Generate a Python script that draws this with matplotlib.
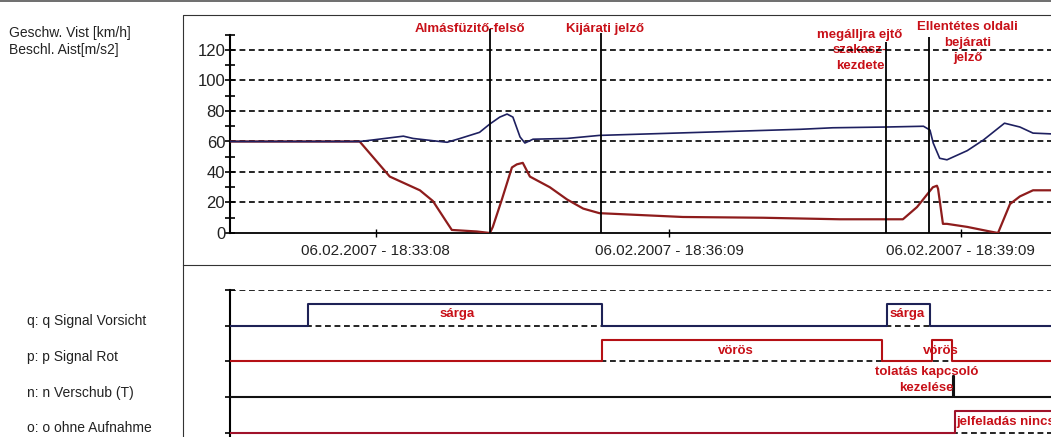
import numpy as np
import matplotlib
matplotlib.use("Agg")
import matplotlib.pyplot as plt
from matplotlib.lines import Line2D

plt.rcParams['font.family'] = ['Liberation Sans', 'DejaVu Sans']

# time axis: seconds relative to 06.02.2007 18:33:08
tick_pos = [0, 181, 361]
tick_labels = ['06.02.2007 - 18:33:08', '06.02.2007 - 18:36:09', '06.02.2007 - 18:39:09']
t_min, t_max = -90, 416.7

# Geschw. Vist [km/h]
speed_t = [-90, -10, -2, 17, 23, 39.5, 44, 52, 64, 70.4, 76.5, 81, 84.6, 89, 92,
           97, 118, 138, 200, 262, 282, 315, 338, 342, 344, 348, 352.5, 365, 375,
           388, 397.5, 405.6, 416.7]
speed_v = [60, 60, 61, 63.5, 62, 60, 59.5, 62, 66, 71.5, 76, 78, 76, 63, 59,
           61.5, 62, 64, 66, 68, 69, 69.5, 70, 67.5, 59, 49, 48, 54, 61,
           72, 69.5, 65.5, 65]

# Beschl. Aist[m/s2]
accel_t = [-90, -10, 8.6, 27.2, 35.2, 43.8, 46.9, 62.3, 70.4, 72.2, 77.8, 84, 87,
           90.7, 95.1, 107.4, 118, 128, 138, 189.5, 239, 286.4, 325.3, 334, 343.8,
           346.3, 347, 350, 352.5, 365, 379, 384, 391.4, 397.5, 405.6, 416.7]
accel_v = [60, 60, 37, 28, 21, 7, 2, 1, 0, 4, 22, 43, 45,
           46, 37, 30, 22, 16, 13, 10.5, 10, 9, 9, 17, 30,
           31, 29, 6, 6, 4, 1, 0, 19, 24, 28, 28]

# event markers
event_t = [70.4, 139, 315, 341.4]
event_top = [134, 131, 125, 128.5]
event_text = ['Almásfüzitő-felső', 'Kijárati jelző',
              'megálljra ejtő\nszakasz-\nkezdete', 'Ellentétes oldali\nbejárati\njelző']
event_text_t = [58, 141.4, 298.8, 365.4]
event_text_y = [138, 138, 134, 139]

# signal channels (state changes, 0 = off, 1 = on)
q_t = [-90, -42, 139.5, 315.4, 342, 416.7]
q_s = [0, 1, 0, 1, 0, 0]
p_t = [-90, 139.5, 312.3, 343, 355.6, 416.7]
p_s = [0, 1, 0, 1, 0, 0]
n_t = [-90, 356, 356.6, 416.7]
n_s = [0, 1, 0, 0]
o_t = [-90, 357.4, 416.7]
o_s = [0, 1, 1]
channel_names = ['q: q Signal Vorsicht', 'p: p Signal Rot', 'n: n Verschub (T)', 'o: o ohne Aufnahme']

red = '#c81018'
W, H = 1051, 437
fig = plt.figure(figsize=(W / 100, H / 100), dpi=100)


def fx(px):
    return px / W


def fy(py):
    return 1 - py / H


# page frame lines
fig.add_artist(Line2D([0, 1], [fy(0.8), fy(0.8)], color='#555555', lw=1.2))
fig.add_artist(Line2D([fx(183), fx(183), 1], [0, fy(15), fy(15)], color='#333333', lw=0.8))
fig.add_artist(Line2D([fx(183), 1], [fy(265), fy(265)], color='#333333', lw=0.8))

# ---- top panel: speed / acceleration
ax = fig.add_axes([fx(230), fy(233), 1 - fx(230), (233 - 34.75) / H])
ax.set_xlim(t_min, t_max)
ax.set_ylim(0, 130)
for s in ['top', 'right']:
    ax.spines[s].set_visible(False)
ax.spines['left'].set_linewidth(1.5)
ax.spines['bottom'].set_linewidth(1.3)
ax.set_yticks(np.arange(0, 121, 20))
ax.set_yticks(np.arange(10, 131, 20), minor=True)
ax.tick_params(axis='y', which='both', direction='inout', length=7, width=1.2, pad=0,
               labelsize=12, labelcolor='#222222')
ax.set_xticks(tick_pos)
ax.set_xticklabels(tick_labels)
ax.tick_params(axis='x', direction='inout', length=6, width=1, pad=5,
               labelsize=11, labelcolor='#222222')
for yv in range(20, 121, 20):
    ax.axhline(yv, color='black', lw=1.2, dashes=(3.5, 2.2), zorder=2)

ax.plot(accel_t, accel_v, color='#8e1c1c', lw=1.6, zorder=3)
ax.plot(speed_t, speed_v, color='#1e2060', lw=1.2, zorder=3)
ax.vlines(event_t, 0, event_top, color='black', lw=1.3, clip_on=False, zorder=4)
for txt, tx, ty in zip(event_text, event_text_t, event_text_y):
    ax.text(tx, ty, txt, color=red, fontsize=9.5, fontweight='bold', ha='center',
            va='top', linespacing=1.4, clip_on=False, zorder=1)

fig.text(fx(9), fy(33), 'Geschw. Vist [km/h]', fontsize=10, va='center', color='#222222')
fig.text(fx(9), fy(50), 'Beschl. Aist[m/s2]', fontsize=10, va='center', color='#222222')

# ---- bottom panel: signal states
bx = fig.add_axes([fx(230), 0, 1 - fx(230), 147 / H])
bx.set_xlim(t_min, t_max)
bx.set_ylim(-0.12, 4)
for s in ['top', 'right', 'bottom']:
    bx.spines[s].set_visible(False)
bx.spines['left'].set_linewidth(1.5)
bx.set_xticks([])
bx.set_yticks(range(5))
bx.set_yticklabels([])
bx.tick_params(axis='y', direction='inout', length=7, width=1.2)
for yv in range(5):
    bx.axhline(yv, color='black', lw=1.2, dashes=(3.5, 2.2), zorder=2)

high = 0.6
channels = [(q_t, q_s, 3, '#1e2256'), (p_t, p_s, 2, '#b51015'),
            (n_t, n_s, 1, '#111111'), (o_t, o_s, 0, '#a0122a')]
for ts, ss, base, col in channels:
    bx.step(ts, base + high * np.array(ss), where='post', color=col, lw=1.5, zorder=3)

for name, base in zip(channel_names, [3, 2, 1, 0]):
    fig.text(fx(27), fy(433 - base * 35.68 - 4.5), name, fontsize=10, va='center', color='#222222')

bx.text(50, 3.33, 'sárga', color=red, fontsize=9.5, fontweight='bold', ha='center', va='center')
bx.text(327.8, 3.33, 'sárga', color=red, fontsize=9.5, fontweight='bold', ha='center', va='center')
bx.text(222, 2.3, 'vörös', color=red, fontsize=9.5, fontweight='bold', ha='center', va='center')
bx.text(348.8, 2.3, 'vörös', color=red, fontsize=9.5, fontweight='bold', ha='center', va='center')
bx.text(340, 1.48, 'tolatás kapcsoló\nkezelése', color=red, fontsize=9.5, fontweight='bold',
        ha='center', va='center', linespacing=1.5)
bx.text(358, 0.31, 'jelfeladás nincs', color=red, fontsize=9.5, fontweight='bold',
        ha='left', va='center', clip_on=False)

fig.savefig('out.png', dpi=100)
